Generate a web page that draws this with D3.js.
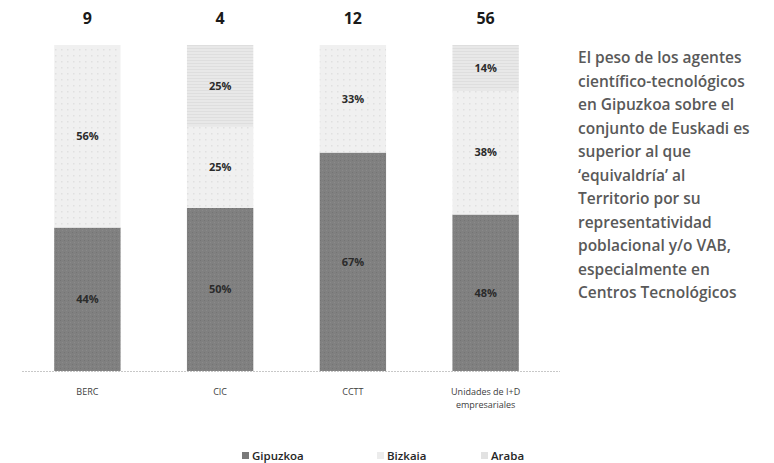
<!DOCTYPE html>
<html>
<head>
<meta charset="utf-8">
<script src="https://cdn.jsdelivr.net/npm/d3@7"></script>
<style>
  body { margin: 0; background: #fff; }
  svg { display: block; }
</style>
</head>
<body>
<div id="chart"></div>
<script>
const categories = ['BERC', 'CIC', 'CCTT', 'Unidades de I+D empresariales'];
const totals = [9, 4, 12, 56];
const seriesNames = ['Gipuzkoa', 'Bizkaia', 'Araba'];
const gipuzkoa = [44, 50, 67, 48];
const bizkaia = [56, 25, 33, 38];
const araba = [0, 25, 0, 14];
const note = [
  'El peso de los agentes',
  'científico-tecnológicos',
  'en Gipuzkoa sobre el',
  'conjunto de Euskadi es',
  'superior al que',
  '‘equivaldría’ al',
  'Territorio por su',
  'representatividad',
  'poblacional y/o VAB,',
  'especialmente en',
  'Centros Tecnológicos'
];

const W = 774, H = 463;
const svg = d3.select('#chart').append('svg')
  .attr('width', W).attr('height', H);

// Patterns (imitating the textured fills)
const defs = svg.append('defs');
const pG = defs.append('pattern').attr('id', 'pG')
  .attr('width', 4).attr('height', 4).attr('patternUnits', 'userSpaceOnUse');
pG.append('rect').attr('width', 4).attr('height', 4).attr('fill', '#808080');
pG.append('rect').attr('x', 0).attr('y', 0).attr('width', 1).attr('height', 1).attr('fill', '#747474');
pG.append('rect').attr('x', 2).attr('y', 2).attr('width', 1).attr('height', 1).attr('fill', '#8a8a8a');

const pB = defs.append('pattern').attr('id', 'pB')
  .attr('width', 6).attr('height', 6).attr('patternUnits', 'userSpaceOnUse');
pB.append('rect').attr('width', 6).attr('height', 6).attr('fill', '#f0f0f0');
pB.append('rect').attr('x', 1).attr('y', 1).attr('width', 1.5).attr('height', 1.5).attr('fill', '#e0e0e0');

const pA = defs.append('pattern').attr('id', 'pA')
  .attr('width', 4).attr('height', 3).attr('patternUnits', 'userSpaceOnUse');
pA.append('rect').attr('width', 4).attr('height', 3).attr('fill', '#e8e8e8');
pA.append('rect').attr('y', 0).attr('width', 4).attr('height', 1).attr('fill', '#dedede');

const fills = ['url(#pG)', 'url(#pB)', 'url(#pA)'];
const legendFills = ['#7a7a7a', '#ececec', '#e2e2e2'];

const y0 = 371, y1 = 45;

const x = d3.scaleBand()
  .domain(categories)
  .range([21, 552])
  .paddingInner(0.5)
  .paddingOuter(0.25);

const y = d3.scaleLinear().domain([0, 100]).range([y0, y1]);

const rows = categories.map((c, i) => ({ cat: c, Gipuzkoa: gipuzkoa[i], Bizkaia: bizkaia[i], Araba: araba[i] }));
const stack = d3.stack().keys(seriesNames)(rows);

const g = svg.append('g');
stack.forEach((layer, k) => {
  const grp = g.append('g');
  grp.selectAll('rect')
    .data(layer)
    .join('rect')
    .attr('x', d => x(d.data.cat))
    .attr('y', d => y(d[1]))
    .attr('width', x.bandwidth())
    .attr('height', d => y(d[0]) - y(d[1]))
    .attr('fill', fills[k]);
  grp.selectAll('text')
    .data(layer.filter(d => d[1] - d[0] > 0))
    .join('text')
    .attr('x', d => x(d.data.cat) + x.bandwidth() / 2)
    .attr('y', d => (y(d[0]) + y(d[1])) / 2)
    .attr('dy', '0.35em')
    .attr('text-anchor', 'middle')
    .attr('font-family', 'Open Sans, sans-serif')
    .attr('font-size', 11)
    .attr('font-weight', 'bold')
    .attr('fill', '#2b2b2b')
    .text(d => (d[1] - d[0]) + '%');
});

// Baseline
svg.append('line')
  .attr('x1', 22).attr('x2', 560)
  .attr('y1', y0 + 0.5).attr('y2', y0 + 0.5)
  .attr('stroke', '#c8c8c8')
  .attr('stroke-width', 1)
  .attr('stroke-dasharray', '2,1');

// Totals on top
svg.selectAll('.total')
  .data(categories)
  .join('text')
  .attr('x', d => x(d) + x.bandwidth() / 2)
  .attr('y', 24)
  .attr('text-anchor', 'middle')
  .attr('font-family', 'Open Sans, sans-serif')
  .attr('font-size', 16)
  .attr('font-weight', 'bold')
  .attr('fill', '#1a1a1a')
  .text((d, i) => totals[i]);

// Category labels
const xLabels = [['BERC'], ['CIC'], ['CCTT'], ['Unidades de I+D', 'empresariales']];
svg.selectAll('.xl')
  .data(categories)
  .join('text')
  .attr('x', d => x(d) + x.bandwidth() / 2)
  .attr('y', 395)
  .attr('text-anchor', 'middle')
  .attr('font-family', 'Open Sans, sans-serif')
  .attr('font-size', 9)
  .attr('fill', '#404040')
  .each(function(d, i) {
    d3.select(this).selectAll('tspan')
      .data(xLabels[i])
      .join('tspan')
      .attr('x', x(d) + x.bandwidth() / 2)
      .attr('dy', (t, j) => j === 0 ? 0 : 13)
      .text(t => t);
  });

// Legend
const legendX = [242, 377, 481];
const legend = svg.selectAll('.lg')
  .data(seriesNames)
  .join('g')
  .attr('transform', (d, i) => `translate(${legendX[i]},456)`);
legend.append('rect')
  .attr('x', 0).attr('y', -4)
  .attr('width', 7).attr('height', 7)
  .attr('fill', (d, i) => legendFills[i]);
legend.append('text')
  .attr('x', 10).attr('y', 0)
  .attr('dy', '0.35em')
  .attr('font-family', 'Open Sans, sans-serif')
  .attr('font-size', 11.5)
  .attr('font-weight', 600)
  .attr('fill', '#262626')
  .text(d => d);

// Side note
svg.append('text')
  .attr('font-family', 'Open Sans, sans-serif')
  .attr('font-size', 15.5)
  .attr('font-weight', 600)
  .attr('fill', '#595959')
  .selectAll('tspan')
  .data(note)
  .join('tspan')
  .attr('x', 578)
  .attr('y', (d, i) => 63 + i * 23.5)
  .text(d => d);
</script>
</body>
</html>
